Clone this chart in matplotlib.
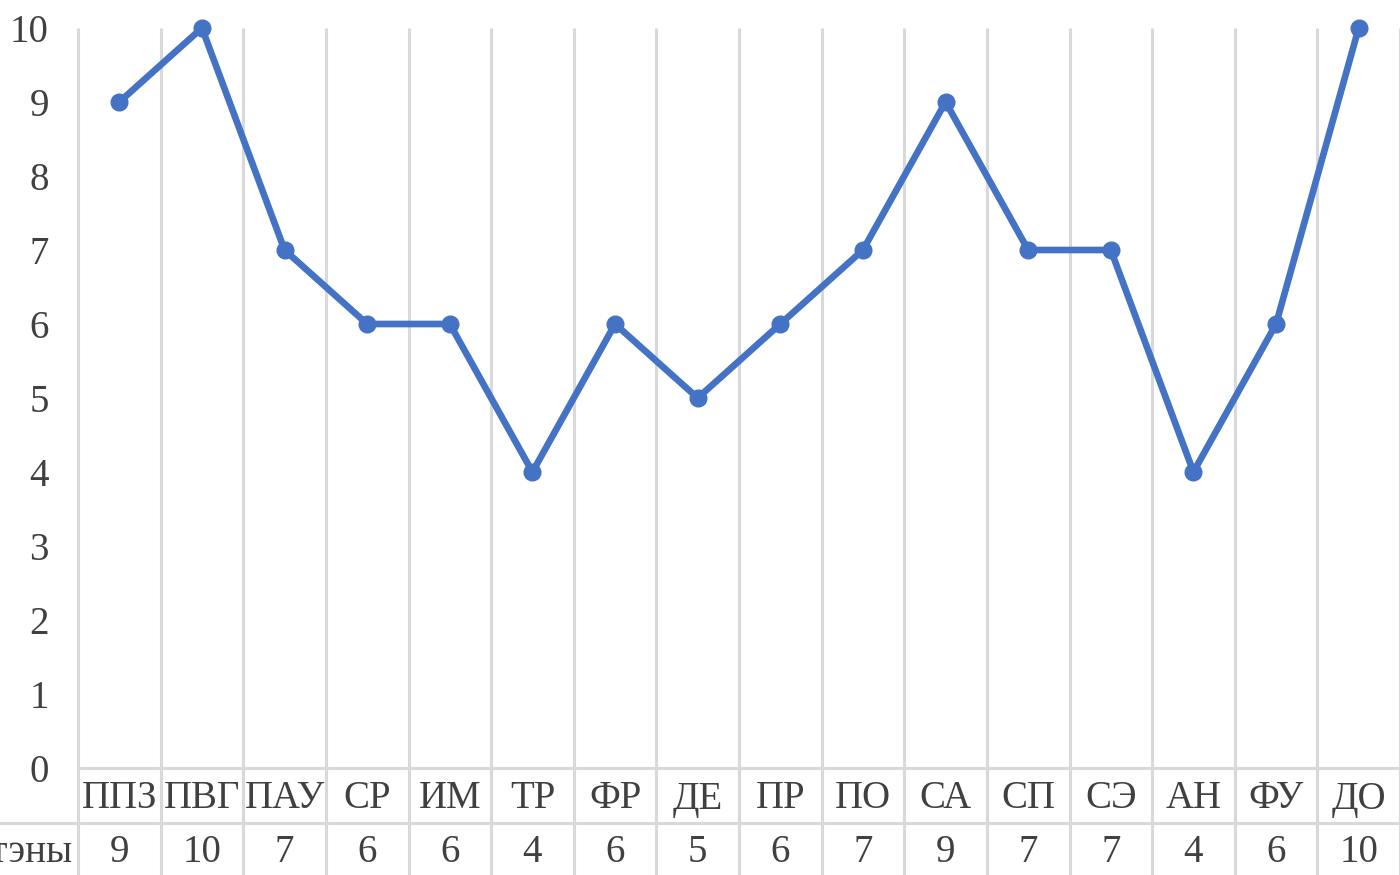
import numpy as np
import matplotlib.pyplot as plt

# categories and sten scores
categories = ['ППЗ', 'ПВГ', 'ПАУ', 'СР', 'ИМ', 'ТР', 'ФР', 'ДЕ',
              'ПР', 'ПО', 'СА', 'СП', 'СЭ', 'АН', 'ФУ', 'ДО']
stens = [9, 10, 7, 6, 6, 4, 6, 5, 6, 7, 9, 7, 7, 4, 6, 10]
row_label = 'Стэны'
y_ticks = list(range(0, 11))

line_color = '#4472C4'
grid_color = '#d9d9d9'
text_color = '#404040'

plt.rcParams['font.family'] = ['Liberation Serif', 'DejaVu Serif']

fig = plt.figure(figsize=(14, 8.75), dpi=100)
W, H = 1400, 875
left, right, top, bottom = 78, 1400, 28, 768
ax = fig.add_axes([left / W, 1 - bottom / H, (right - left) / W, (bottom - top) / H])

x = np.arange(len(categories))
ax.plot(x, stens, color=line_color, linewidth=4.8, marker='o', markersize=12,
        solid_joinstyle='round', zorder=3, clip_on=False)

ax.set_xlim(-0.5, len(categories) - 0.5)
ax.set_ylim(0, 10)
ax.set_yticks(y_ticks)
ax.set_yticklabels([str(t) for t in y_ticks], fontsize=28, color=text_color)
ax.tick_params(axis='y', length=0, pad=21)
ax.set_xticks([])
for s in ax.spines.values():
    s.set_visible(False)

# data table below the plot, in axes coordinates
unit = (bottom - top)  # pixels per axes unit in y
row1_bot = -(823 - bottom) / unit
row2_bot = -(H - bottom) / unit
cat_y = -(799 - bottom) / unit
val_y = -(853 - bottom) / unit
xt = ax.get_xaxis_transform()

bounds = np.arange(len(categories) + 1) - 0.5
ax.vlines(bounds, row2_bot, 1, transform=xt, colors=grid_color, linewidth=2.2,
          clip_on=False, zorder=1)
ax.plot([-0.5, len(categories) - 0.5], [0, 0], transform=xt, color=grid_color,
        linewidth=2.2, clip_on=False, zorder=1)
x_fig0 = ax.transData.inverted().transform((0, 0))[0]
ax.plot([x_fig0, len(categories) - 0.5], [row1_bot, row1_bot], transform=xt,
        color=grid_color, linewidth=2.2, clip_on=False, zorder=1)

for xi, cat, val in zip(x, categories, stens):
    ax.text(xi, cat_y, cat, transform=xt, ha='center', va='center',
            fontsize=28, color=text_color, clip_on=False)
    ax.text(xi, val_y, str(val), transform=xt, ha='center',
            va='center', fontsize=28, color=text_color, clip_on=False)

ax.text(-0.57, val_y, row_label, transform=xt, ha='right',
        va='center', fontsize=28, color=text_color, clip_on=False)

fig.savefig('out.png', dpi=100)
